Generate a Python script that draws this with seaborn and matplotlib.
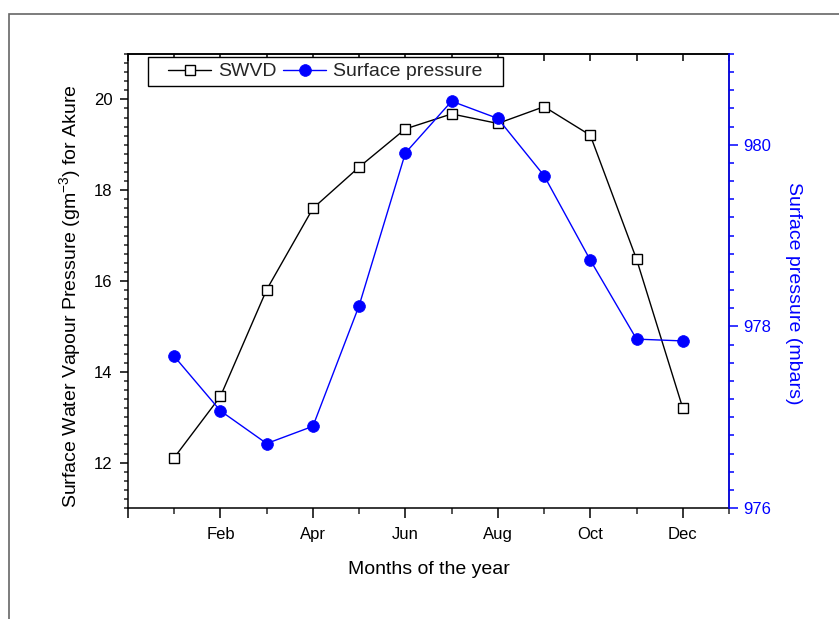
import numpy as np
import pandas as pd
import matplotlib
matplotlib.use("Agg")
import matplotlib.pyplot as plt
from matplotlib.path import Path
from matplotlib.patches import Rectangle
from matplotlib.ticker import MultipleLocator, FixedLocator
import seaborn as sns

# Monthly means for Akure
months = np.arange(1, 13)
month_ticks = [0, 2, 4, 6, 8, 10, 12]
month_labels = ["", "Feb", "Apr", "Jun", "Aug", "Oct", "Dec"]
swvd = [12.11, 13.46, 15.81, 17.60, 18.51, 19.35, 19.68, 19.47, 19.84, 19.21, 16.48, 13.20]
surface_pressure = [977.67, 977.07, 976.71, 976.90, 978.23, 979.91, 980.48,
                    980.29, 979.66, 978.73, 977.86, 977.84]

BLUE = "#0000ff"

sns.set_theme(style="white")
plt.rcParams["font.family"] = ["Liberation Sans", "DejaVu Sans"]
plt.rcParams["mathtext.fontset"] = "custom"
plt.rcParams["mathtext.rm"] = "Liberation Sans"
plt.rcParams["mathtext.it"] = "Liberation Sans:italic"
plt.rcParams["mathtext.bf"] = "Liberation Sans:bold"
plt.rcParams["axes.linewidth"] = 1.1

df = pd.DataFrame({"month": months, "swvd": swvd, "pressure": surface_pressure})

fig = plt.figure(figsize=(8.39, 6.19), dpi=100)
ax = fig.add_axes([128 / 839, 1 - 508 / 619, 601 / 839, 454 / 619])
ax2 = ax.twinx()

sns.lineplot(data=df, x="month", y="swvd", ax=ax, color="black", lw=1.0,
             marker="s", ms=6.5, mfc="white", mec="black", mew=1.0,
             label="SWVD", legend=False)
sns.lineplot(data=df, x="month", y="pressure", ax=ax2, color=BLUE, lw=1.0,
             marker="o", ms=8.5, mfc=BLUE, mec=BLUE, mew=0.5,
             label="Surface pressure", legend=False)

# axis ranges and ticks
ax.set_xlim(0, 13)
ax.set_ylim(11, 21)
ax2.set_ylim(976, 981)

ax.set_xticks(month_ticks, month_labels)
ax.xaxis.set_minor_locator(FixedLocator([1, 3, 5, 7, 9, 11, 13]))
ax.yaxis.set_major_locator(MultipleLocator(2))
ax.yaxis.set_minor_locator(MultipleLocator(0.2))
ax2.yaxis.set_major_locator(MultipleLocator(2))
ax2.yaxis.set_minor_locator(MultipleLocator(0.2))

ax.tick_params(axis="x", which="major", direction="out", length=7, width=1.1,
               bottom=True, top=False, labelsize=12, pad=7, colors="black")
ax.tick_params(axis="x", which="minor", direction="out", length=4, width=1.1,
               bottom=True, top=False)
ax.tick_params(axis="y", which="major", direction="out", length=6, width=1.1,
               left=True, right=False, labelsize=12, pad=5, colors="black")
ax.tick_params(axis="y", which="minor", direction="out", length=3, width=1.1,
               left=True, right=False)
ax2.tick_params(axis="y", which="major", direction="out", length=6.5, width=1.1,
                right=True, left=False, labelsize=12, pad=3.5, colors=BLUE)
ax2.tick_params(axis="y", which="minor", direction="out", length=3.5, width=1.1,
                right=True, left=False, colors=BLUE)

# inward ticks along the top edge
top = ax.secondary_xaxis("top")
top.set_xticks(range(0, 14))
top.tick_params(direction="in", length=5, width=1.1, labeltop=False, colors="black")
top.spines["top"].set_color("black")

for side in ["left", "bottom", "top"]:
    ax.spines[side].set_color("black")
ax2.spines["right"].set_color(BLUE)
for side in ["left", "bottom", "top"]:
    ax2.spines[side].set_visible(False)

ax.set_xlabel("Months of the year", fontsize=14, color="black", labelpad=13)
ax.set_ylabel("Surface Water Vapour Pressure (gm$^{-3}$) for Akure",
              fontsize=14, color="black")
ax.yaxis.set_label_coords(-0.075, 0.467)
ax2.set_ylabel("Surface pressure (mbars)", fontsize=14, color=BLUE,
               rotation=270, va="bottom")
ax2.yaxis.set_label_coords(1.093, 0.4736)


class WideSquare:
    """Square legend frame with extra horizontal padding."""

    def __init__(self, padx):
        self.padx = padx

    def __call__(self, x0, y0, width, height, mutation_size):
        px = self.padx * mutation_size
        x0 -= px
        x1 = x0 + width + 2 * px
        y1 = y0 + height
        return Path([(x0, y0), (x1, y0), (x1, y1), (x0, y1), (x0, y0)],
                    closed=True)


h1, l1 = ax.get_legend_handles_labels()
h2, l2 = ax2.get_legend_handles_labels()
leg = ax2.legend(h1 + h2, l1 + l2, loc="upper left",
                 bbox_to_anchor=(0.0574, 0.9934), bbox_transform=ax.transAxes,
                 borderaxespad=0, ncol=2, fontsize=14, frameon=True,
                 fancybox=False, framealpha=1, edgecolor="black",
                 borderpad=0.3, handlelength=2.2, handletextpad=0.35,
                 columnspacing=0.35, numpoints=1)
leg.get_frame().set_linewidth(1.0)
leg.get_frame().set_boxstyle(WideSquare(0.75))

# outer frame of the figure panel
fig.add_artist(Rectangle((9 / 839, -0.5), 2.0, 0.5 + 1 - 14 / 619,
                         transform=fig.transFigure, fill=False,
                         edgecolor="#666666", linewidth=1.2, clip_on=False))

fig.savefig("out.png", dpi=100)
